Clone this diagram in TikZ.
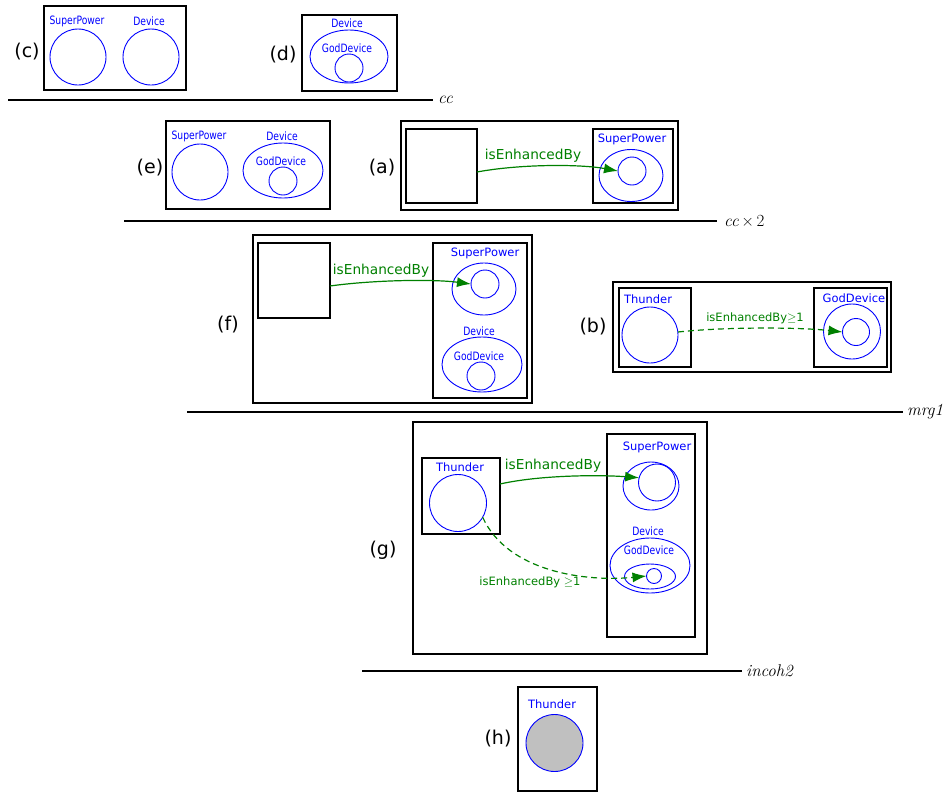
\documentclass[tikz,border=0pt]{standalone}
\usepackage{fontspec}
\newfontfamily\dv{DejaVu Sans}
\newfontfamily\dvc[FakeStretch=0.8]{DejaVu Sans}
\usetikzlibrary{shapes.geometric,arrows.meta,calc}
\definecolor{eblue}{RGB}{0,0,255}
\definecolor{egreen}{RGB}{0,128,0}
\definecolor{efill}{RGB}{192,192,192}
\tikzset{
 frame/.style={draw=black, line width=1.3pt, rectangle, inner sep=0pt, outer sep=0pt},
 ring/.style={draw=eblue, line width=0.9pt, ellipse, inner sep=0pt, outer sep=0pt},
 tag/.style={font=\dv\fontsize{19}{22}\selectfont, inner sep=0pt},
 nm/.style={text=eblue, font=\dv\fontsize{11.5}{14}\selectfont, inner sep=0pt},
 nms/.style={text=eblue, font=\dvc\fontsize{11.5}{14}\selectfont, inner sep=0pt},
 rel/.style={text=egreen, font=\dv\fontsize{13.7}{16}\selectfont, inner sep=0pt},
 rels/.style={text=egreen, font=\dv\fontsize{11.5}{14}\selectfont, inner sep=0pt},
 link/.style={draw=egreen, line width=1.2pt, -{Latex[length=14pt,width=10pt]}},
 dlink/.style={link, dash pattern=on 6pt off 4pt},
 sepline/.style={draw=black, line width=1.2pt},
 mlab/.style={font=\fontsize{17}{20}\selectfont, anchor=west, inner sep=0pt},
}
\begin{document}
\begin{tikzpicture}[x=1pt,y=-1pt]
\useasboundingbox (0,0) rectangle (951,793);

% ---------- (c)
\node[tag] (tc) at (27,52) {(c)};
\node[frame, minimum width=142, minimum height=84] (bc) at (115,48) {};
\node[nms] (c1t) at (77,21) {SuperPower};
\node[ring, minimum width=56, minimum height=56] (c1) at (78,57) {};
\node[nms] (c2t) at (149,21) {Device};
\node[ring, minimum width=56, minimum height=56] (c2) at (151,57) {};

% ---------- (d)
\node[tag] (td) at (283,55) {(d)};
\node[frame, minimum width=95, minimum height=76] (bd) at (349.5,53) {};
\node[nms] (d1t) at (347,23) {Device};
\node[ring, minimum width=78, minimum height=53] (d1) at (349,56.5) {};
\node[nms] (d2t) at (347,48) {GodDevice};
\node[ring, minimum width=28, minimum height=28] (d2) at (349,68) {};

% separator cc
\coordinate (s1a) at (8,100);
\coordinate (s1b) at (433,100);
\draw[sepline] (s1a) -- (s1b);
\node[mlab] (s1l) at (438,100) {\textit{cc}};

% ---------- (e)
\node[tag] (te) at (150,168) {(e)};
\node[frame, minimum width=164, minimum height=88] (be) at (248,165) {};
\node[nms] (e1t) at (199,136) {SuperPower};
\node[ring, minimum width=56, minimum height=56] (e1) at (200,172) {};
\node[nms] (e2t) at (282,136) {Device};
\node[ring, minimum width=80, minimum height=55] (e2) at (283,170.5) {};
\node[nms] (e3t) at (281,161) {GodDevice};
\node[ring, minimum width=28, minimum height=28] (e3) at (283,181) {};

% ---------- (a)
\node[tag] (ta) at (382,168) {(a)};
\node[frame, minimum width=277, minimum height=89] (ba) at (539.5,165.5) {};
\node[frame, minimum width=71, minimum height=74] (aL) at (441.5,166) {};
\node[frame, minimum width=80, minimum height=74] (aR) at (633,166) {};
\node[nm] (a1t) at (632,139) {SuperPower};
\node[ring, minimum width=64, minimum height=52] (a1) at (631,175.5) {};
\node[ring, minimum width=28, minimum height=28] (a2) at (632,171) {};
\draw[link] ($(aL.east)+(0,6)$) .. controls +(43,-8) and +(-38,-7) .. (a2.west);
\node[rel] (al) at (533,156) {isEnhancedBy};

% separator cc x 2
\coordinate (s2a) at (124,221);
\coordinate (s2b) at (717,221);
\draw[sepline] (s2a) -- (s2b);
\node[mlab] (s2l) at (724,221) {\textit{cc}\,×\,2};

% ---------- (f)
\node[tag] (tf) at (228,325) {(f)};
\node[frame, minimum width=279, minimum height=168] (bf) at (392.5,319) {};
\node[frame, minimum width=72, minimum height=75] (fL) at (294,280.5) {};
\node[frame, minimum width=94, minimum height=155] (fR) at (480,320.5) {};
\node[nm] (f1t) at (485,253) {SuperPower};
\node[ring, minimum width=64, minimum height=52] (f1) at (484,289) {};
\node[ring, minimum width=28, minimum height=28] (f2) at (485,284) {};
\node[nms] (f3t) at (479,331) {Device};
\node[ring, minimum width=80, minimum height=55] (f3) at (482,364.5) {};
\node[nms] (f4t) at (479,356) {GodDevice};
\node[ring, minimum width=28, minimum height=28] (f4) at (481,376) {};
\draw[link] ($(fL.east)+(0,5.5)$) .. controls +(43,-6) and +(-38,-5) .. (f2.west);
\node[rel] (fl) at (381,271) {isEnhancedBy};

% ---------- (b)
\node[tag] (tb) at (593,327) {(b)};
\node[frame, minimum width=278, minimum height=90] (bb) at (752,327) {};
\node[frame, minimum width=72, minimum height=79] (bL) at (655,327.5) {};
\node[frame, minimum width=73, minimum height=79] (bR) at (850.5,327.5) {};
\node[nm] (b1t) at (648,299) {Thunder};
\node[ring, minimum width=56, minimum height=56] (b1) at (650,335) {};
\node[nm] (b2t) at (854,298) {GodDevice};
\node[ring, minimum width=57, minimum height=55] (b2) at (852,331.5) {};
\node[ring, minimum width=27, minimum height=27] (b3) at (856,332) {};
\draw[dlink] ($(b1.east)+(0,-3)$) .. controls +(45,-5) and +(-45,-5) .. (b3.west);
\node[rels] (bl) at (755,318) {isEnhancedBy$\geq$1};

% separator mrg1
\coordinate (s3a) at (187,412);
\coordinate (s3b) at (903,412);
\draw[sepline] (s3a) -- (s3b);
\node[mlab] (s3l) at (907,412) {\textit{mrg1}};

% ---------- (g)
\node[tag] (tg) at (383,550) {(g)};
\node[frame, minimum width=294, minimum height=232] (bg) at (560,538) {};
\node[frame, minimum width=78, minimum height=76] (gL) at (461,496) {};
\node[frame, minimum width=88, minimum height=203] (gR) at (651,535.5) {};
\node[nm] (g1t) at (460,467) {Thunder};
\node[ring, minimum width=57, minimum height=57] (g1) at (458,503) {};
\node[nm] (g2t) at (657,447) {SuperPower};
\node[ring, minimum width=56, minimum height=48] (g2) at (651,486) {};
\node[ring, minimum width=37, minimum height=37] (g3) at (657,482.5) {};
\node[nms] (g4t) at (648,531) {Device};
\node[ring, minimum width=80, minimum height=55] (g4) at (650,565.5) {};
\node[nms] (g5t) at (649,550) {GodDevice};
\node[ring, minimum width=51, minimum height=25] (g5) at (650,576.5) {};
\node[ring, minimum width=15, minimum height=15] (g6) at (654,576) {};
\draw[link] ($(gL.east)+(0,-12)$) .. controls +(40,-9) and +(-40,-3) .. (g3.165);
\node[rel] (gl1) at (553,466) {isEnhancedBy};
\draw[dlink] (g1.-30) .. controls +(25,55) and +(-60,6) .. (g6.west);
\node[rels] (gl2) at (530,582) {isEnhancedBy $\geq$1};

% separator incoh2
\coordinate (s4a) at (362,671);
\coordinate (s4b) at (742,671);
\draw[sepline] (s4a) -- (s4b);
\node[mlab] (s4l) at (746,671) {\textit{incoh2}};

% ---------- (h)
\node[tag] (th) at (498,739) {(h)};
\node[frame, minimum width=79, minimum height=104] (bh) at (557.5,739) {};
\node[nm] (h1t) at (552,704) {Thunder};
\node[ring, fill=efill, minimum width=57, minimum height=57] (h1) at (554.5,743) {};
\end{tikzpicture}
\end{document}
